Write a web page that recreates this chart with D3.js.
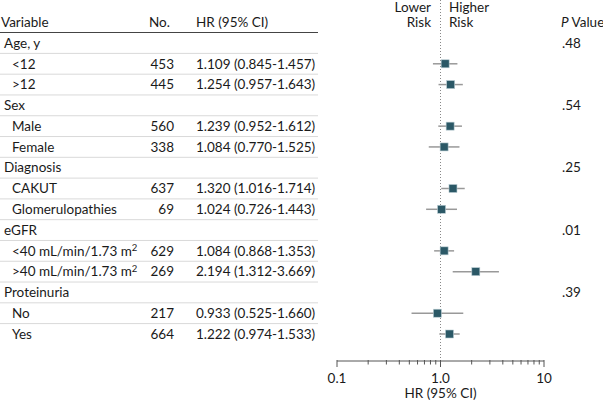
<!DOCTYPE html>
<html><head><meta charset="utf-8">
<script src="https://cdn.jsdelivr.net/npm/d3@7"></script>
<style>
body{margin:0;background:#fff;}
text{font-family:Lato,"Open Sans",sans-serif;font-size:13.5px;fill:#1a1a1a;}
</style></head>
<body><svg id="c" width="603" height="402"></svg>
<script>
// ---- data ----
const labels = ["Age, y","<12",">12","Sex","Male","Female","Diagnosis","CAKUT","Glomerulopathies","eGFR","<40 mL/min/1.73 m²",">40 mL/min/1.73 m²","Proteinuria","No","Yes"];
const isGroup = [1,0,0,1,0,0,1,0,0,1,0,0,1,0,0];
const counts = [null,453,445,null,560,338,null,637,69,null,629,269,null,217,664];
const hr    = [null,1.109,1.254,null,1.239,1.084,null,1.320,1.024,null,1.084,2.194,null,0.933,1.222];
const lo    = [null,0.845,0.957,null,0.952,0.770,null,1.016,0.726,null,0.868,1.312,null,0.525,0.974];
const hi    = [null,1.457,1.643,null,1.612,1.525,null,1.714,1.443,null,1.353,3.669,null,1.660,1.533];
const pvals = [".48",null,null,".54",null,null,".25",null,null,".01",null,null,".39",null,null];
const majorTicks = [0.1,1,10];
const majorTickLabels = ["0.1","1.0","10"];
const minorTicks = [0.2,0.3,0.4,0.5,0.6,0.7,0.8,0.9,2,3,4,5,6,7,8,9];

const svg = d3.select("#c");
const x = d3.scaleLog().domain([0.1,10]).range([337,544]);
const y = d3.scalePoint().domain(d3.range(labels.length)).range([43,334]);
const step = y.step();
const axisY = 361;

// table header
const hdrY = 22.5;
svg.append("text").attr("x",1).attr("y",hdrY).attr("dy","0.35em").text("Variable");
svg.append("text").attr("x",149).attr("y",hdrY).attr("dy","0.35em").text("No.");
svg.append("text").attr("x",196).attr("y",hdrY).attr("dy","0.35em").text("HR (95% CI)");
svg.append("line").attr("x1",0).attr("x2",318).attr("y1",32.5).attr("y2",32.5).attr("stroke","#444").attr("stroke-width",1);

// row separators
labels.forEach((l,i)=>{
  if(i<labels.length-1){
    const yy = y(i)+step/2;
    svg.append("line").attr("x1",0).attr("x2",318).attr("y1",yy).attr("y2",yy).attr("stroke","#d9d9d9").attr("stroke-width",1);
  }
});

// row labels
const rows = svg.append("g");
labels.forEach((l,i)=>{
  const t = rows.append("text").attr("x",isGroup[i]?4:12).attr("y",y(i)).attr("dy","0.35em");
  if(l.endsWith("m²")){
    t.text(l.slice(0,-1));
    t.append("tspan").attr("dy","-0.45em").attr("font-size","9.5px").text("2");
  } else t.text(l);
  if(counts[i]!=null){
    rows.append("text").attr("x",174).attr("y",y(i)).attr("dy","0.35em").attr("text-anchor","end").text(counts[i]);
    rows.append("text").attr("x",196).attr("y",y(i)).attr("dy","0.35em")
      .text(`${hr[i].toFixed(3)} (${lo[i].toFixed(3)}-${hi[i].toFixed(3)})`);
  }
  if(pvals[i]) rows.append("text").attr("x",562).attr("y",y(i)).attr("dy","0.35em").text(pvals[i]);
});

// Lower/Higher risk & P value header
svg.append("text").attr("x",431).attr("y",7).attr("dy","0.35em").attr("text-anchor","end").text("Lower");
svg.append("text").attr("x",431).attr("y",hdrY).attr("dy","0.35em").attr("text-anchor","end").text("Risk");
svg.append("text").attr("x",449).attr("y",7).attr("dy","0.35em").text("Higher");
svg.append("text").attr("x",449).attr("y",hdrY).attr("dy","0.35em").text("Risk");
const pv = svg.append("text").attr("x",561).attr("y",hdrY).attr("dy","0.35em");
pv.append("tspan").attr("font-style","italic").text("P");
pv.append("tspan").text(" Value");

// reference line
svg.append("line").attr("x1",x(1)).attr("x2",x(1)).attr("y1",0).attr("y2",axisY)
  .attr("stroke","#888").attr("stroke-width",1).attr("stroke-dasharray","1,2");

// CI + markers
const pts = d3.range(labels.length).filter(i=>hr[i]!=null);
svg.append("g").selectAll("line").data(pts).join("line")
  .attr("x1",i=>x(lo[i])).attr("x2",i=>x(hi[i])).attr("y1",i=>y(i)).attr("y2",i=>y(i))
  .attr("stroke","#999").attr("stroke-width",1.5);
const sz = 8;
svg.append("g").selectAll("rect").data(pts).join("rect")
  .attr("x",i=>x(hr[i])-sz/2).attr("y",i=>y(i)-sz/2).attr("width",sz).attr("height",sz)
  .attr("fill","#2b5866").attr("stroke","#b9ccd2").attr("stroke-width",0.6);

// axis
const ax = svg.append("g").attr("transform",`translate(0,${axisY})`);
ax.append("line").attr("x1",x(0.1)).attr("x2",x(10)).attr("stroke","#555").attr("stroke-width",1);
ax.selectAll(".mj").data(majorTicks).join("line").attr("class","mj")
  .attr("x1",d=>x(d)).attr("x2",d=>x(d)).attr("y1",-1).attr("y2",6).attr("stroke","#555");
ax.selectAll(".mn").data(minorTicks).join("line").attr("class","mn")
  .attr("x1",d=>x(d)).attr("x2",d=>x(d)).attr("y1",-1).attr("y2",3.5).attr("stroke","#555");
ax.selectAll(".tl").data(majorTicks).join("text").attr("class","tl")
  .attr("x",d=>x(d)).attr("y",17).attr("dy","0.35em").attr("text-anchor","middle")
  .text((d,i)=>majorTickLabels[i]);
svg.append("text").attr("x",x(1)).attr("y",393.5).attr("dy","0.35em").attr("text-anchor","middle").text("HR (95% CI)");
</script></body></html>
